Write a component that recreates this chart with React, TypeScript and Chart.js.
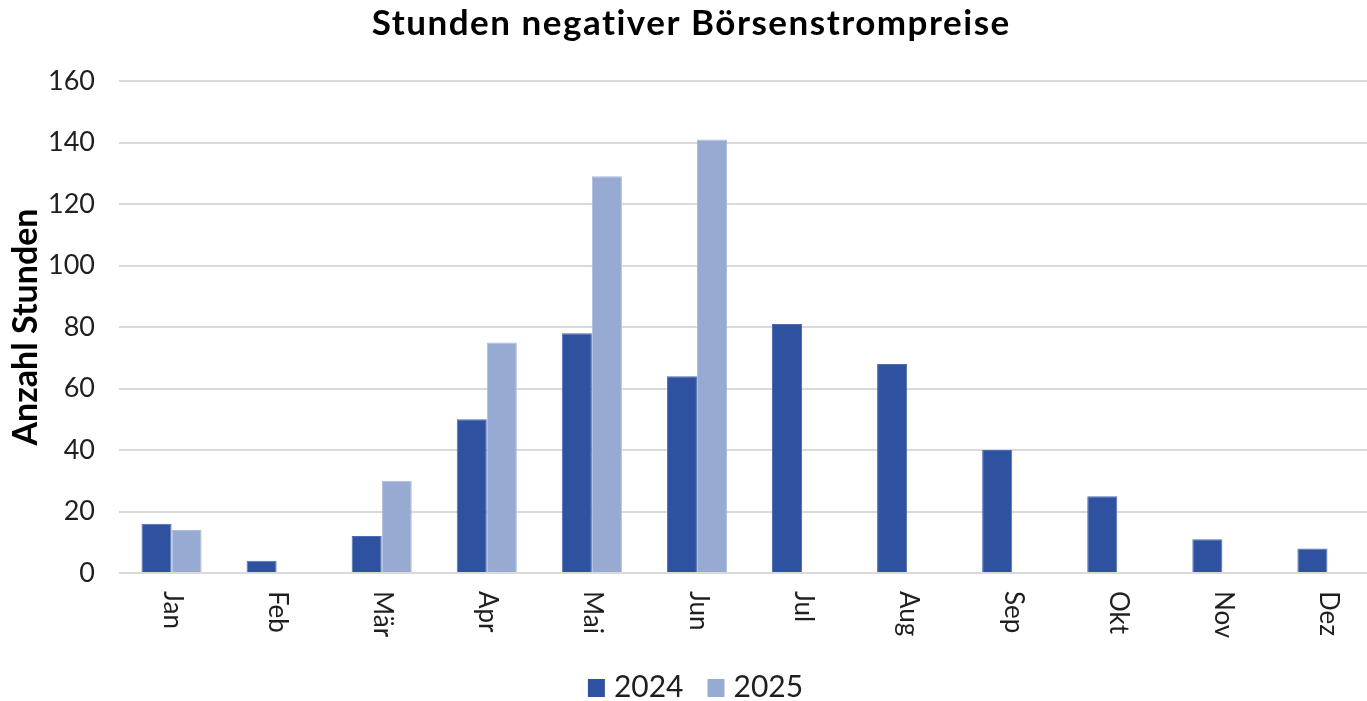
import React, { useEffect, useRef } from 'react';
import { Chart, registerables } from 'chart.js';

Chart.register(...registerables);

// ---- Data ----
const months = ['Jan', 'Feb', 'Mär', 'Apr', 'Mai', 'Jun', 'Jul', 'Aug', 'Sep', 'Okt', 'Nov', 'Dez'];
const hours2024 = [16, 4, 12, 50, 78, 64, 81, 68, 40, 25, 11, 8];
const hours2025: (number | null)[] = [14, null, 30, 75, 129, 141, null, null, null, null, null, null];
const seriesLabels = ['2024', '2025'];
const yMin = 0;
const yMax = 160;
const yStep = 20;
const titleText = 'Stunden negativer Börsenstrompreise';
const yTitleText = 'Anzahl Stunden';

// ---- Style ----
const FONT = 'Lato';
const COLORS = ['#2E52A0', '#97AAD1'];
const BORDERS = ['#4F6DB0', '#AEBEDD'];
const TEXT = '#1F1F1F';
const TITLE_SPACING = 1.5;

const titlePlugin = {
  id: 'wideTitle',
  afterDraw(chart: any) {
    const { ctx } = chart;
    ctx.save();
    ctx.font = `bold 35px ${FONT}`;
    (ctx as any).letterSpacing = `${TITLE_SPACING}px`;
    ctx.fillStyle = '#000';
    ctx.textAlign = 'left';
    ctx.textBaseline = 'alphabetic';
    const w = ctx.measureText(titleText).width - TITLE_SPACING;
    ctx.fillText(titleText, chart.width / 2 - w / 2, 35);
    ctx.restore();
  },
};

const xLabelPlugin = {
  id: 'rotatedXLabels',
  afterDraw(chart: any) {
    const { ctx } = chart;
    const xs = chart.scales.x;
    ctx.save();
    ctx.font = `26px ${FONT}`;
    ctx.fillStyle = TEXT;
    ctx.textAlign = 'left';
    ctx.textBaseline = 'middle';
    (chart.data.labels as string[]).forEach((lab, i) => {
      const px = xs.getPixelForValue(i);
      ctx.save();
      ctx.translate(px + 1, chart.chartArea.bottom + 18);
      ctx.rotate(Math.PI / 2);
      ctx.fillText(lab, 0, 0);
      ctx.restore();
    });
    ctx.restore();
  },
};

const legendPlugin = {
  id: 'customLegend',
  afterDraw(chart: any) {
    const { ctx } = chart;
    const box = 17;
    const gapText = 9;
    const gapItem = 24;
    ctx.save();
    ctx.font = `30px ${FONT}`;
    ctx.textAlign = 'left';
    ctx.textBaseline = 'alphabetic';
    const ds = chart.data.datasets;
    const widths = ds.map((d: any) => ctx.measureText(d.label).width);
    let total = 0;
    widths.forEach((w: number, i: number) => {
      total += box + gapText + w + (i > 0 ? gapItem : 0);
    });
    let x = chart.width / 2 + 5 - total / 2;
    const baseline = chart.height - 4;
    ds.forEach((d: any, i: number) => {
      ctx.fillStyle = d.backgroundColor;
      ctx.fillRect(x, baseline - 18, box, 18);
      x += box + gapText;
      ctx.fillStyle = TEXT;
      ctx.fillText(d.label, x, baseline);
      x += widths[i] + gapItem;
    });
    ctx.restore();
  },
};

export default function App() {
  const ref = useRef<HTMLCanvasElement>(null);

  useEffect(() => {
    document.body.style.margin = '0';
    if (!ref.current) return;
    const chart = new Chart(ref.current, {
      type: 'bar',
      data: {
        labels: months,
        datasets: [
          {
            label: seriesLabels[0],
            data: hours2024,
            backgroundColor: COLORS[0],
            borderColor: BORDERS[0],
            borderWidth: 1,
            categoryPercentage: 0.572,
            barPercentage: 1,
          },
          {
            label: seriesLabels[1],
            data: hours2025,
            backgroundColor: COLORS[1],
            borderColor: BORDERS[1],
            borderWidth: 1,
            categoryPercentage: 0.572,
            barPercentage: 1,
          },
        ],
      },
      options: {
        responsive: false,
        animation: false,
        layout: { padding: { left: 0, right: 1, top: 81, bottom: 0 } },
        plugins: {
          legend: { display: false },
          tooltip: { enabled: false },
          title: { display: false },
        },
        scales: {
          x: {
            grid: { display: false },
            border: { display: false },
            ticks: { display: false },
            afterFit: (s: any) => {
              s.height = 128;
            },
          },
          y: {
            min: yMin,
            max: yMax,
            ticks: {
              stepSize: yStep,
              color: TEXT,
              font: { family: FONT, size: 27 },
              padding: 24,
            },
            grid: { color: '#D9D9D9', lineWidth: 2, drawTicks: false },
            border: { display: false },
            title: {
              display: true,
              text: yTitleText,
              color: '#000',
              font: { family: FONT, size: 34, weight: 'bold' },
              padding: { top: 6, bottom: 0 },
            },
            afterFit: (s: any) => {
              s.width = 119;
            },
          },
        },
      },
      plugins: [titlePlugin, xLabelPlugin, legendPlugin],
    });
    return () => chart.destroy();
  }, []);

  return (
    <div style={{ width: 1367, height: 701, overflow: 'hidden', background: '#fff' }}>
      <canvas ref={ref} width={1381} height={701} style={{ width: 1381, height: 701, display: 'block' }} />
    </div>
  );
}
